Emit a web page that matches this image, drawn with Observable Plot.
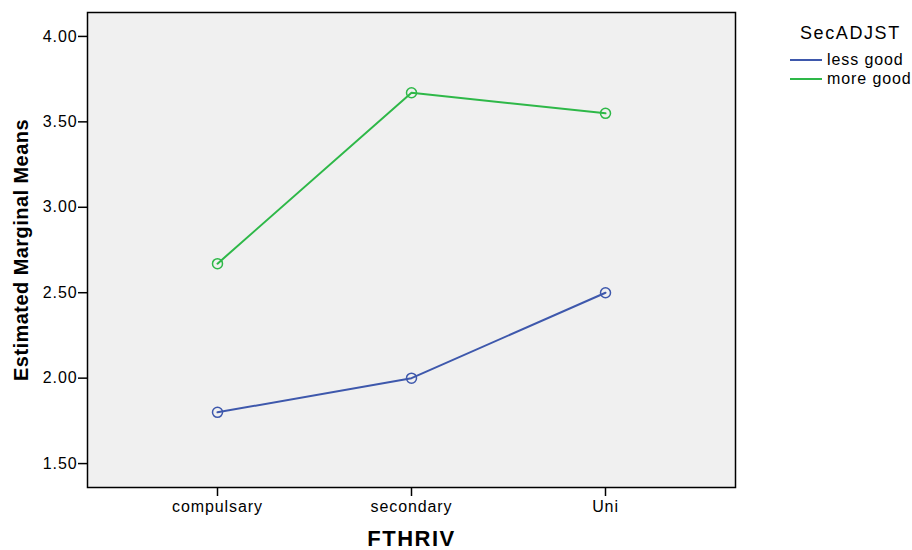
<!DOCTYPE html>
<html>
<head>
<meta charset="utf-8">
<script src="https://cdn.jsdelivr.net/npm/d3@7"></script>
<script src="https://cdn.jsdelivr.net/npm/@observablehq/plot@0.6"></script>
<style>
  html, body { margin: 0; padding: 0; background: #fff; }
  #wrap { position: relative; width: 912px; height: 550px; font-family: "Liberation Sans", Arial, sans-serif; }
  #wrap svg { font-family: "Liberation Sans", Arial, sans-serif; }
  g[aria-label="y-axis tick label"] text, g[aria-label="x-axis tick label"] text { font-size: 16px; letter-spacing: 0.9px; fill: #000; }
  g[aria-label="y-axis label"] text { font-size: 20px; font-weight: bold; letter-spacing: 0.45px; fill: #000; }
  g[aria-label="x-axis label"] text { font-size: 22px; font-weight: bold; letter-spacing: 1.5px; fill: #000; }
  #legend { position: absolute; left: 790px; top: 22px; color: #000; }
  #legend .title { font-size: 18px; letter-spacing: 1.6px; margin-left: 10px; margin-bottom: 6px; line-height: 22px; }
  #legend .row { display: flex; align-items: center; font-size: 16px; letter-spacing: 0.9px; height: 19px; }
  #legend .sw { width: 32px; height: 2px; margin-right: 5px; }
</style>
</head>
<body>
<div id="wrap"><div id="legend"></div></div>
<script>
const categories = ["compulsary", "secondary", "Uni"];
const seriesNames = ["less good", "more good"];
const lessGood = [1.80, 2.00, 2.50];
const moreGood = [2.67, 3.67, 3.55];
const yTicks = [1.5, 2.0, 2.5, 3.0, 3.5, 4.0];
const colors = ["#3e58ac", "#2eb848"];

const data = [];
categories.forEach((c, i) => {
  data.push({cat: c, series: seriesNames[0], value: lessGood[i]});
  data.push({cat: c, series: seriesNames[1], value: moreGood[i]});
});

const chart = Plot.plot({
  width: 912,
  height: 550,
  marginLeft: 87,
  marginRight: 177,
  marginTop: 12,
  marginBottom: 63,
  style: {fontFamily: "Liberation Sans, Arial, sans-serif", fontSize: "16px", background: "#fff"},
  x: {type: "point", domain: categories, padding: 0.67},
  y: {domain: [1.36, 4.14]},
  color: {domain: seriesNames, range: colors},
  marks: [
    Plot.frame({fill: "#f0f0f0", stroke: "none"}),
    Plot.axisY({ticks: yTicks, tickFormat: d3.format(".2f"), tickSize: 9, tickPadding: 1, stroke: "#000", strokeWidth: 1.5, strokeOpacity: 1, fill: "#000", fontSize: 16,
      label: "Estimated Marginal Means", labelAnchor: "center", labelArrow: "none", labelOffset: 74}),
    Plot.axisX({tickSize: 9, tickPadding: 4, stroke: "#000", strokeWidth: 1.5, strokeOpacity: 1, fill: "#000", fontSize: 16,
      label: "FTHRIV", labelAnchor: "center", labelArrow: "none", labelOffset: 58}),
    Plot.line(data, {x: "cat", y: "value", stroke: "series", strokeWidth: 2}),
    Plot.dot(data, {x: "cat", y: "value", stroke: "series", r: 5, strokeWidth: 1.5, fill: "none"}),
    Plot.frame({stroke: "#000", strokeWidth: 1.5})
  ]
});
document.getElementById("wrap").prepend(chart);

const legend = document.getElementById("legend");
legend.innerHTML = `<div class="title">SecADJST</div>` +
  seriesNames.map((s, i) => `<div class="row"><span class="sw" style="background:${colors[i]}"></span>${s}</div>`).join("");
</script>
</body>
</html>
